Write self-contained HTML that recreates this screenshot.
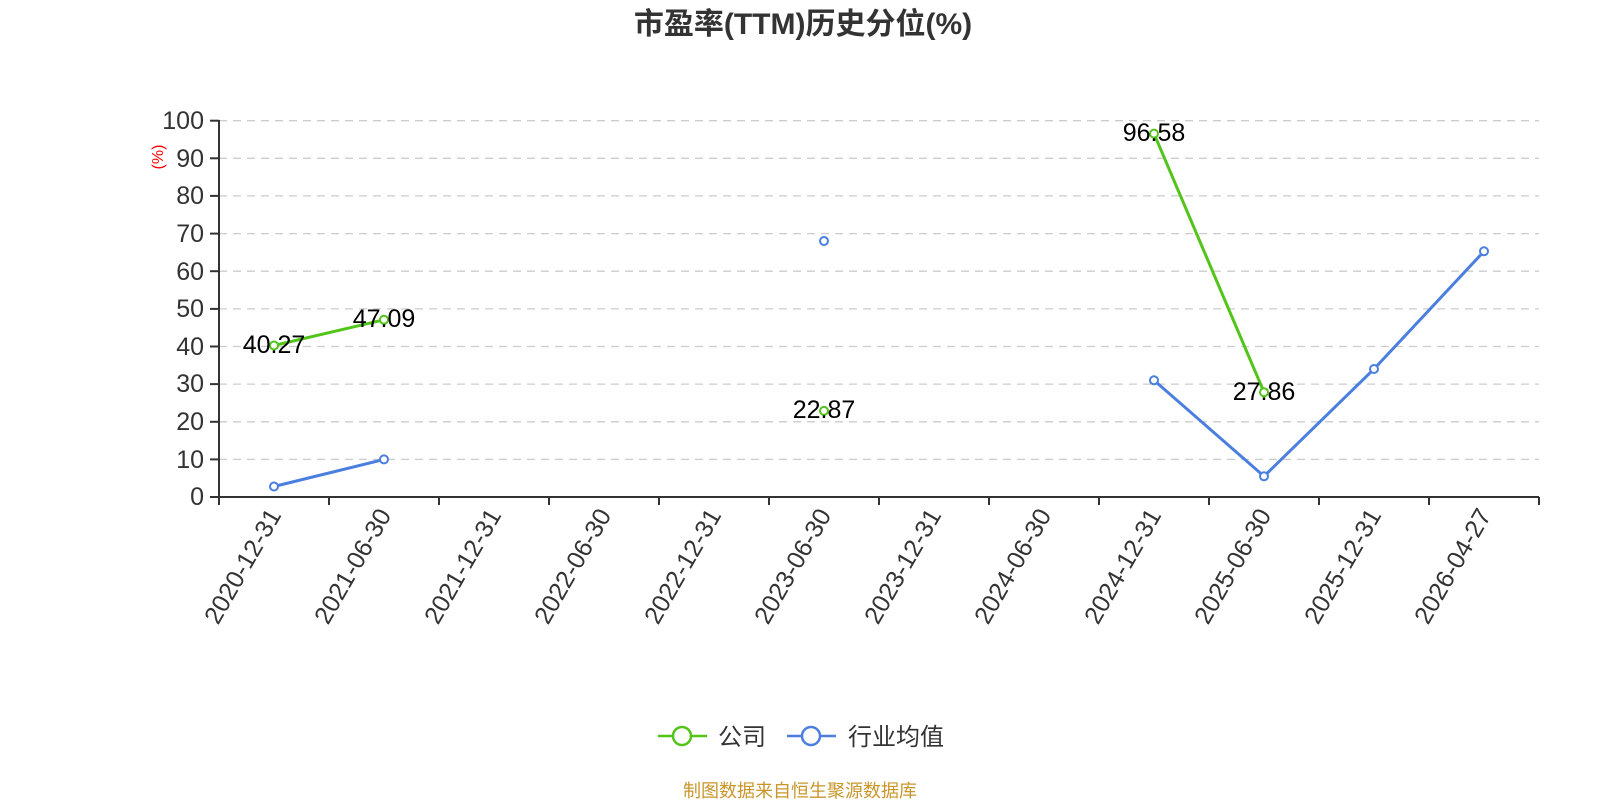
<!DOCTYPE html>
<html><head><meta charset="utf-8"><style>
html,body{margin:0;padding:0;background:#fff;}
svg text{font-family:"Liberation Sans","Noto Sans CJK SC",sans-serif;}
</style></head><body>
<svg width="1600" height="800" xmlns="http://www.w3.org/2000/svg">
<text x="803" y="34" text-anchor="middle" font-size="30" font-weight="bold" fill="#333">市盈率(TTM)历史分位(%)</text>
<g stroke="#ccc" stroke-width="1.3" stroke-dasharray="8,6">
<line x1="219" y1="120.7" x2="1539" y2="120.7"/>
<line x1="219" y1="158.3" x2="1539" y2="158.3"/>
<line x1="219" y1="195.9" x2="1539" y2="195.9"/>
<line x1="219" y1="233.6" x2="1539" y2="233.6"/>
<line x1="219" y1="271.2" x2="1539" y2="271.2"/>
<line x1="219" y1="308.9" x2="1539" y2="308.9"/>
<line x1="219" y1="346.5" x2="1539" y2="346.5"/>
<line x1="219" y1="384.1" x2="1539" y2="384.1"/>
<line x1="219" y1="421.8" x2="1539" y2="421.8"/>
<line x1="219" y1="459.4" x2="1539" y2="459.4"/>
</g>
<g stroke="#333" stroke-width="2">
<line x1="219" y1="120" x2="219" y2="497"/>
<line x1="219" y1="497" x2="1539" y2="497"/>
<line x1="210" y1="120.7" x2="219" y2="120.7"/><line x1="210" y1="158.3" x2="219" y2="158.3"/><line x1="210" y1="195.9" x2="219" y2="195.9"/><line x1="210" y1="233.6" x2="219" y2="233.6"/><line x1="210" y1="271.2" x2="219" y2="271.2"/><line x1="210" y1="308.9" x2="219" y2="308.9"/><line x1="210" y1="346.5" x2="219" y2="346.5"/><line x1="210" y1="384.1" x2="219" y2="384.1"/><line x1="210" y1="421.8" x2="219" y2="421.8"/><line x1="210" y1="459.4" x2="219" y2="459.4"/><line x1="210" y1="497" x2="219" y2="497"/>
<line x1="219" y1="497" x2="219" y2="505"/><line x1="329" y1="497" x2="329" y2="505"/><line x1="439" y1="497" x2="439" y2="505"/><line x1="549" y1="497" x2="549" y2="505"/><line x1="659" y1="497" x2="659" y2="505"/><line x1="769" y1="497" x2="769" y2="505"/><line x1="879" y1="497" x2="879" y2="505"/><line x1="989" y1="497" x2="989" y2="505"/><line x1="1099" y1="497" x2="1099" y2="505"/><line x1="1209" y1="497" x2="1209" y2="505"/><line x1="1319" y1="497" x2="1319" y2="505"/><line x1="1429" y1="497" x2="1429" y2="505"/><line x1="1539" y1="497" x2="1539" y2="505"/>
</g>
<g font-size="25" fill="#333" text-anchor="end">
<text x="204" y="129">100</text><text x="204" y="167">90</text><text x="204" y="204">80</text><text x="204" y="242">70</text><text x="204" y="280">60</text><text x="204" y="317">50</text><text x="204" y="355">40</text><text x="204" y="392">30</text><text x="204" y="430">20</text><text x="204" y="468">10</text><text x="204" y="505">0</text>
</g>
<text transform="translate(163,157) rotate(-90)" text-anchor="middle" font-size="16" fill="red">(%)</text>
<g font-size="25" fill="#333" text-anchor="end">
<text transform="translate(282,515) rotate(-60)">2020-12-31</text>
<text transform="translate(392,515) rotate(-60)">2021-06-30</text>
<text transform="translate(502,515) rotate(-60)">2021-12-31</text>
<text transform="translate(612,515) rotate(-60)">2022-06-30</text>
<text transform="translate(722,515) rotate(-60)">2022-12-31</text>
<text transform="translate(832,515) rotate(-60)">2023-06-30</text>
<text transform="translate(942,515) rotate(-60)">2023-12-31</text>
<text transform="translate(1052,515) rotate(-60)">2024-06-30</text>
<text transform="translate(1162,515) rotate(-60)">2024-12-31</text>
<text transform="translate(1272,515) rotate(-60)">2025-06-30</text>
<text transform="translate(1382,515) rotate(-60)">2025-12-31</text>
<text transform="translate(1492,515) rotate(-60)">2026-04-27</text>
</g>
<g fill="none" stroke-width="3" stroke-linejoin="round">
<polyline stroke="#52c41a" points="274,345.5 384,319.8"/>
<polyline stroke="#52c41a" points="1154,133.6 1264,392.2"/>
<polyline stroke="#4a7fe0" points="274,486.5 384,459.4"/>
<polyline stroke="#4a7fe0" points="1154,380.3 1264,476.3 1374,369 1484,251.3"/>
</g>
<g fill="#fff" stroke-width="2">
<g stroke="#52c41a"><circle cx="274" cy="345.5" r="4"/><circle cx="384" cy="319.8" r="4"/><circle cx="824" cy="410.9" r="4"/><circle cx="1154" cy="133.6" r="4"/><circle cx="1264" cy="392.2" r="4"/></g>
<g stroke="#4a7fe0"><circle cx="274" cy="486.5" r="4"/><circle cx="384" cy="459.4" r="4"/><circle cx="824" cy="241" r="4"/><circle cx="1154" cy="380.3" r="4"/><circle cx="1264" cy="476.3" r="4"/><circle cx="1374" cy="369" r="4"/><circle cx="1484" cy="251.3" r="4"/></g>
</g>
<g font-size="25" fill="#000" text-anchor="middle">
<text x="274" y="353">40.27</text><text x="384" y="327">47.09</text><text x="824" y="418">22.87</text><text x="1154" y="141">96.58</text><text x="1264" y="400">27.86</text>
</g>
<g stroke-width="2.5" fill="#fff">
<line x1="658" y1="736" x2="707" y2="736" stroke="#52c41a"/><circle cx="682" cy="736" r="9" stroke="#52c41a"/>
<line x1="787" y1="736" x2="836" y2="736" stroke="#4a7fe0"/><circle cx="811" cy="736" r="9" stroke="#4a7fe0"/>
</g>
<text x="718" y="745" font-size="24" fill="#333">公司</text>
<text x="848" y="745" font-size="24" fill="#333">行业均值</text>
<text x="800" y="797" text-anchor="middle" font-size="18" fill="#c8962a">制图数据来自恒生聚源数据库</text>
</svg>
</body></html>
